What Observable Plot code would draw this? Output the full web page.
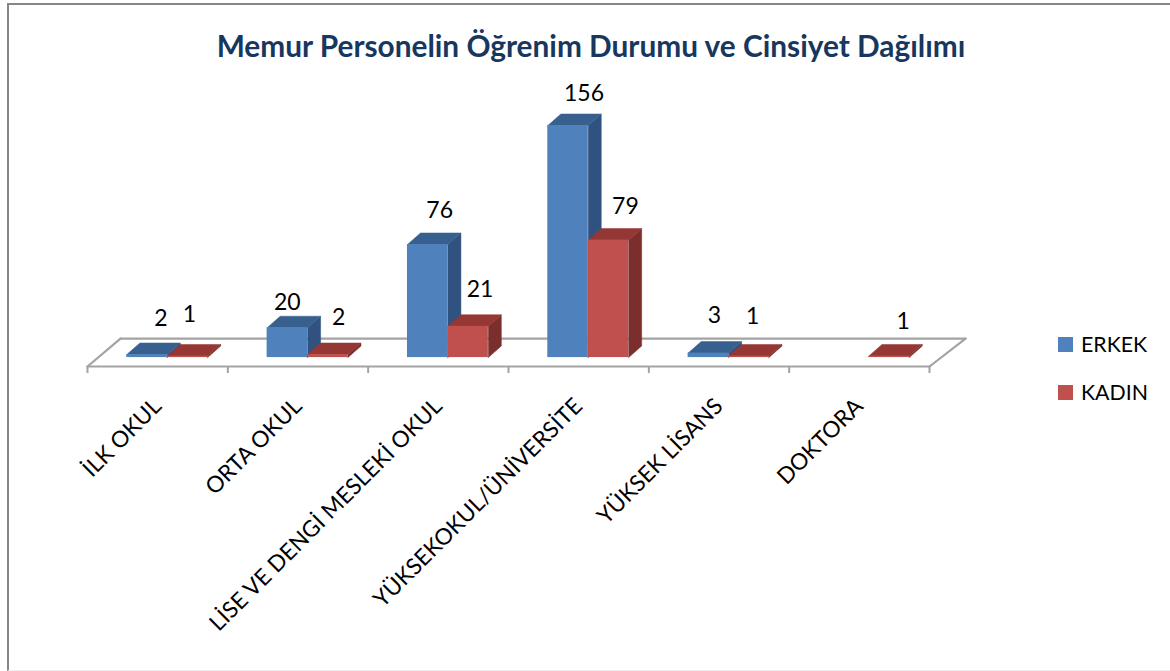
<!DOCTYPE html>
<html lang="tr">
<head>
<meta charset="utf-8">
<script src="https://cdn.jsdelivr.net/npm/d3@7"></script>
<script src="https://cdn.jsdelivr.net/npm/@observablehq/plot@0.6"></script>
<style>
  html, body { margin: 0; padding: 0; background: #fff; }
  #page { position: relative; width: 1170px; height: 671px; overflow: hidden; font-family: Lato, "Open Sans", sans-serif; color: #000; }
  #frame { position: absolute; left: 7px; top: 3px; width: 1170px; height: 668px; border: 2.5px solid #868686; border-bottom: 1px solid #eeeeee; box-sizing: border-box; pointer-events: none; }
  #title { position: absolute; left: 0; top: 28px; width: 1182px; text-align: center; font-size: 29.8px; font-weight: 700; color: #17375e; line-height: 36px; white-space: nowrap; }
  #chart { position: absolute; left: 0; top: 75px; }
  #legend { position: absolute; left: 1058px; top: 329px; font-size: 21.3px; line-height: 31px; }
  .row { position: relative; height: 48px; display: flex; align-items: flex-start; }
  .sw { width: 15px; height: 15px; margin: 8px 8px 0 0; }
</style>
</head>
<body>
<div id="page">
  <div id="title">Memur Personelin Öğrenim Durumu ve Cinsiyet Dağılımı</div>
  <div id="chart"></div>
  <div id="legend"></div>
  <div id="frame"></div>
</div>
<script>
const categories = ["İLK OKUL", "ORTA OKUL", "LİSE VE DENGİ MESLEKİ OKUL", "YÜKSEKOKUL/ÜNİVERSİTE", "YÜKSEK LİSANS", "DOKTORA"];
const erkek = [2, 20, 76, 156, 3, null];
const kadin = [1, 2, 21, 79, 1, 1];
const seriesNames = ["ERKEK", "KADIN"];

// Drawing styles and placement, kept apart from the values
const palette = {
  ERKEK: {front: "#4f81bd", side: "#2f5280", top: "#38608f"},
  KADIN: {front: "#c0504d", side: "#7b2f2d", top: "#953735"}
};
const barStart = 0.28, barWidth = 0.288, depthX = 0.093, depthY = 7.8;
const labelNudge = {
  ERKEK: [[13, -36], [-1, -25], [11, -34], [15, -32], [5, -37], [0, 0]],
  KADIN: [[1, -41], [10, -37], [11, -37], [16, -33], [3, -39], [13, -34]]
};

const bars = [];
seriesNames.forEach((name, s) => {
  (s === 0 ? erkek : kadin).forEach((v, i) => {
    if (v == null) return;
    const x1 = i + barStart + s * barWidth, x2 = x1 + barWidth;
    bars.push({name, i, v, x1, x2, nudge: labelNudge[name][i]});
  });
});

const poly = (kind, pts) => (b) => pts(b).map(([x, y]) => ({id: `${b.name}-${b.i}-${kind}`, name: b.name, x, y}));
const sidePts = (b) => [[b.x2, 0], [b.x2 + depthX, depthY], [b.x2 + depthX, b.v + depthY], [b.x2, b.v]];
const topPts = (b) => [[b.x1, b.v], [b.x1 + depthX, b.v + depthY], [b.x2 + depthX, b.v + depthY], [b.x2, b.v]];
const sides = bars.flatMap(poly("side", sidePts));
const tops = bars.flatMap(poly("top", topPts));

const floorBack = [{x: 0.235, y: 12.8}, {x: 6.257, y: 12.8}];
const floorLeft = [{x: 0, y: -6}, {x: 0.235, y: 12.8}];
const floorRight = [{x: 6, y: -6}, {x: 6.257, y: 12.8}];
const floorFront = [{x: 0, y: -6}, {x: 6, y: -6}];

const faces = (data, kind) => seriesNames.map((name) =>
  Plot.line(data.filter((d) => d.name === name), {
    x: "x", y: "y", z: "id", curve: "linear-closed",
    fill: palette[name][kind], stroke: palette[name][kind], strokeWidth: 0.5
  }));

const floorStyle = {x: "x", y: "y", stroke: "#a3a3a3", strokeWidth: 2.2};

const plot = Plot.plot({
  width: 1170, height: 596,
  marginLeft: 87, marginRight: 241, marginTop: 14.4, marginBottom: 305,
  x: {domain: [0, 6], axis: null},
  y: {domain: [-6, 180], axis: null},
  marks: [
    Plot.line(floorBack, floorStyle),
    Plot.line(floorLeft, floorStyle),
    Plot.line(floorRight, floorStyle),
    Plot.line(floorFront, floorStyle),
    Plot.axisX({ticks: d3.range(0, 7), tickSize: 7, tickFormat: () => "", stroke: "#a3a3a3", strokeWidth: 2, anchor: "bottom", label: null}),
    Plot.axisX({
      ticks: categories.map((_, i) => i + 0.5),
      tickFormat: (t) => categories[Math.round(t - 0.5)],
      tickSize: 0, tickPadding: 36, tickRotate: -45, anchor: "bottom", label: null,
      fontSize: 22.6, fill: "#000"
    }),
    ...faces(sides, "side"),
    ...faces(tops, "top"),
    ...seriesNames.map((name) => Plot.rectY(bars.filter((b) => b.name === name), {
      x1: "x1", x2: "x2", y1: 0, y2: "v", fill: palette[name].front
    })),
    ...bars.map((b) => Plot.text([b], {
      x: (d) => (d.x1 + d.x2) / 2, y: "v", text: (d) => String(d.v),
      dx: b.nudge[0] + 1, dy: b.nudge[1], fontSize: 23, fill: "#000"
    }))
  ]
});
document.getElementById("chart").append(plot);
plot.style.fontFamily = "Lato, 'Open Sans', sans-serif";

const legend = document.getElementById("legend");
seriesNames.forEach((name) => {
  const row = document.createElement("div");
  row.className = "row";
  const sw = document.createElement("div");
  sw.className = "sw";
  sw.style.background = palette[name].front;
  const lab = document.createElement("span");
  lab.textContent = name;
  row.append(sw, lab);
  legend.append(row);
});
</script>
</body>
</html>
